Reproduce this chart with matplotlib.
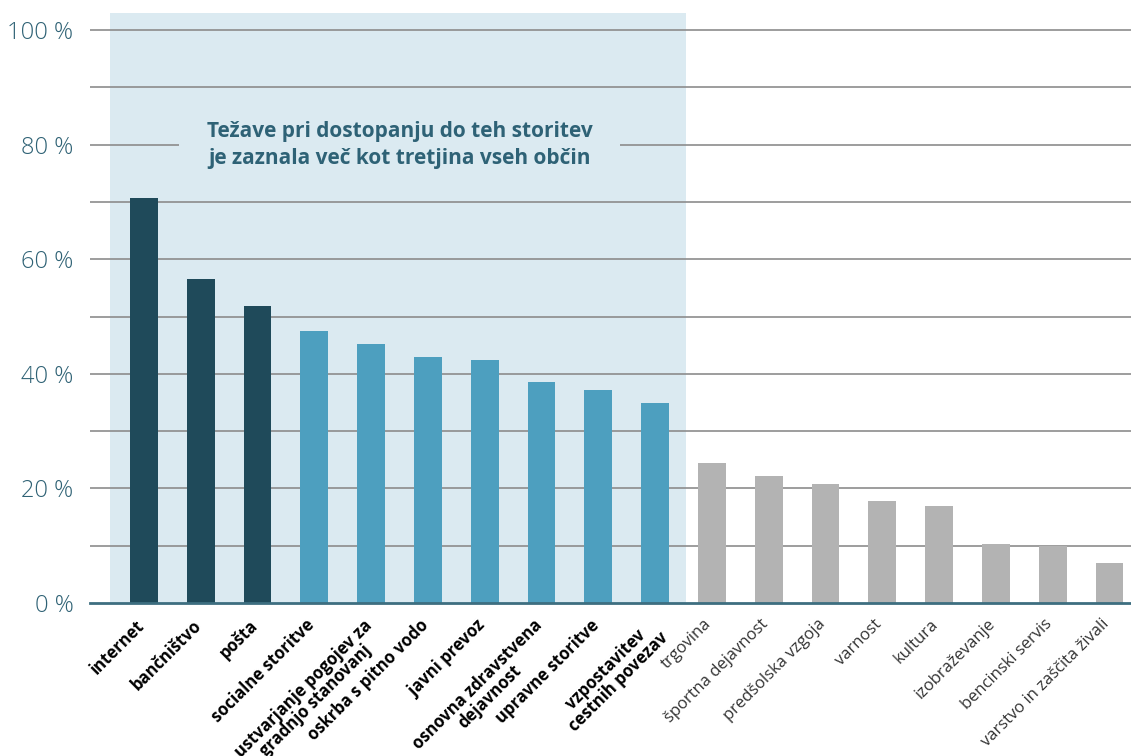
import matplotlib.pyplot as plt
import numpy as np

plt.rcParams['font.family'] = ['Open Sans', 'DejaVu Sans']

# podatki
storitve = ['internet', 'bančništvo', 'pošta', 'socialne storitve',
            'ustvarjanje pogojev za\ngradnjo stanovanj', 'oskrba s pitno vodo',
            'javni prevoz', 'osnovna zdravstvena\ndejavnost', 'upravne storitve',
            'vzpostavitev\ncestnih povezav', 'trgovina', 'športna dejavnost',
            'predšolska vzgoja', 'varnost', 'kultura', 'izobraževanje',
            'bencinski servis', 'varstvo in zaščita živali']
delez = [70.7, 56.5, 51.8, 47.5, 45.2, 42.9, 42.4, 38.6, 37.2, 34.9,
         24.4, 22.2, 20.8, 17.8, 16.9, 10.3, 9.9, 7.0]
skupina = [0, 0, 0, 1, 1, 1, 1, 1, 1, 1, 2, 2, 2, 2, 2, 2, 2, 2]
yticks = [0, 20, 40, 60, 80, 100]

barve = ['#1f4a5a', '#4d9fbf', '#b3b3b3']
teal = '#3d6e80'
senca = '#dbeaf1'

fig = plt.figure(figsize=(11.31, 7.56), dpi=100)
ax = fig.add_axes([90 / 1131, 153 / 756, 1041 / 1131, 590 / 756])

x = np.arange(len(storitve))
ax.set_xlim(-0.95, 17.38)
ax.set_ylim(0, 103)

# ozadje za prvih deset storitev
ax.axvspan(-0.6, 9.54, color=senca, zorder=0, lw=0)

# mreža
for v in range(10, 101, 10):
    ax.axhline(v, color='#8c8c8c', lw=1.2, zorder=1)

ax.bar(x, delez, width=0.49, color=[barve[s] for s in skupina], zorder=2)

ax.spines[['top', 'right', 'left']].set_visible(False)
ax.spines['bottom'].set_color(teal)
ax.spines['bottom'].set_linewidth(2)
ax.spines['bottom'].set_zorder(3)

ax.set_yticks(yticks)
ax.set_yticklabels([f'{v} %' for v in yticks], color='#2f6275', fontsize=17,
                   fontweight='light')
ax.tick_params(axis='y', length=0, pad=12)
ax.tick_params(axis='x', length=0)
ax.set_xticks([])

for i, lab in enumerate(storitve):
    ax.text(i - 0.15, -2.3, lab, rotation=45, rotation_mode='anchor',
            ha='right', va='top', multialignment='center', fontsize=12,
            linespacing=0.95,
            fontweight='bold' if skupina[i] < 2 else 'normal',
            color='black' if skupina[i] < 2 else '#333333', clip_on=False)

ax.text(4.5, 80, 'Težave pri dostopanju do teh storitev\nje zaznala več kot tretjina vseh občin',
        ha='center', va='center', fontsize=15, fontweight='bold', color='#2e6276',
        linespacing=1.35, zorder=4,
        bbox=dict(facecolor=senca, edgecolor='none', pad=20))

fig.savefig('out.png', dpi=100)
